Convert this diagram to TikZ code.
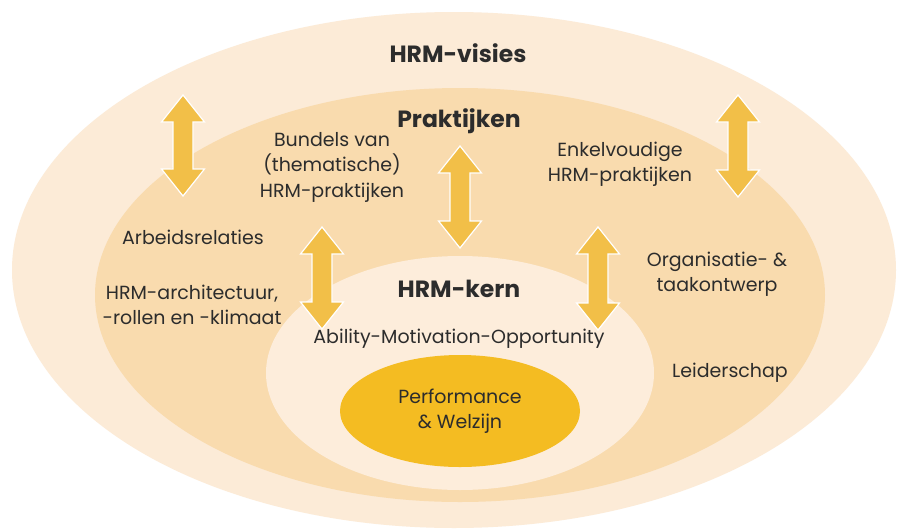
\documentclass[tikz,border=0pt]{standalone}
\usepackage{fontspec}
\setmainfont{Poppins}
\definecolor{visieFill}{HTML}{FCEBD7}
\definecolor{praktijkFill}{HTML}{F9DBAE}
\definecolor{kernFill}{HTML}{FDEDDB}
\definecolor{prestatieFill}{HTML}{F4BC22}
\definecolor{pijlFill}{HTML}{F2BF48}
\definecolor{tekstGrijs}{HTML}{2C2C2C}
\tikzset{
  label/.style={align=center, inner sep=0pt, font=\fontsize{19}{25.5}\selectfont},
  titel/.style={inner sep=0pt, font=\fontsize{23.5}{28}\selectfont\bfseries},
  pijl/.style={fill=pijlFill, draw=white, line width=1.2pt, line join=miter},
}
\begin{document}
\begin{tikzpicture}[x=1pt, y=-1pt, text=tekstGrijs]
  \useasboundingbox (0,0) rectangle (898,531);
  \fill[white] (0,0) rectangle (898,531);
  % nested rings, outside in
  \fill[visieFill] (454,270) ellipse (442pt and 258pt);
  \fill[praktijkFill] (460,295) ellipse (365pt and 207pt);
  \fill[kernFill] (460,373) ellipse (194pt and 117pt);
  \fill[prestatieFill] (460,411) ellipse (120pt and 56pt);
  % double block arrows: x, top, bottom
  \foreach \c/\t/\b in {183/95/196, 460/146/248, 738/95/197, 322/227/329, 598/227/330}{
    \draw[pijl] (\c,\t) -- (\c+21.5,\t+27) -- (\c+10,\t+27) -- (\c+10,\b-27)
      -- (\c+21.5,\b-27) -- (\c,\b) -- (\c-21.5,\b-27) -- (\c-10,\b-27)
      -- (\c-10,\t+27) -- (\c-21.5,\t+27) -- cycle;
  }
  % titles
  \node[titel] (visies) at (458,53) {HRM-visies};
  \node[titel] (praktijken) at (459,121) {Praktijken};
  \node[titel] (kern) at (459,289) {HRM-kern};
  % practice labels
  \node[label] (bundels) at (332,167) {Bundels van\\(thematische)\\HRM-praktijken};
  \node[label] (enkel) at (620,164) {Enkelvoudige\\HRM-praktijken};
  \node[label] (arbeid) at (193,237) {Arbeidsrelaties};
  \node[label] (architectuur) at (192,305) {HRM-architectuur,\\-rollen en -klimaat};
  \node[label] (organisatie) at (717,274) {Organisatie- \&\\taakontwerp};
  \node[label] (leiderschap) at (730,373) {Leiderschap};
  % core
  \node[label] (amo) at (459,339) {Ability-Motivation-Opportunity};
  \node[label] (prestatie) at (460,411) {Performance\\\& Welzijn};
\end{tikzpicture}
\end{document}
